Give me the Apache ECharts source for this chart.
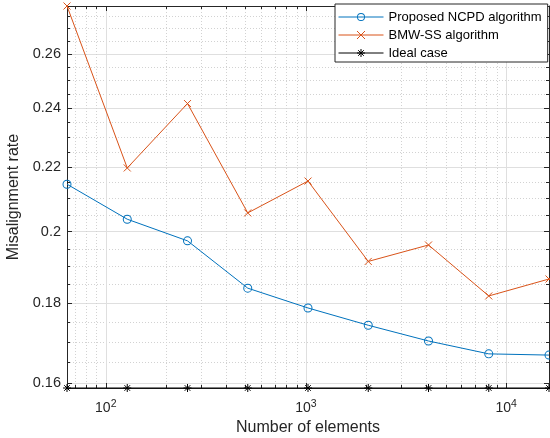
<!DOCTYPE html>
<html><head><meta charset="utf-8">
<script src="https://cdn.jsdelivr.net/npm/echarts@6.0.0/dist/echarts.min.js"></script>
<style>html,body{margin:0;padding:0;background:#fff}#c{width:550px;height:438px}</style>
</head><body><div id="c"></div>
<script>
// ---- data ----
const elements = [64, 128, 256, 512, 1024, 2048, 4096, 8192, 16384];
const ncpd = [0.2145, 0.2037, 0.1973, 0.1840, 0.1787, 0.1742, 0.1702, 0.1670, 0.1667];
const bmw = [0.2790, 0.2197, 0.2416, 0.2056, 0.2155, 0.1914, 0.1961, 0.1819, 0.1865];
const ideal = [0.1588, 0.1588, 0.1588, 0.1588, 0.1588, 0.1588, 0.1588, 0.1588, 0.1588];
const seriesNames = ['Proposed NCPD algorithm', 'BMW-SS algorithm', 'Ideal case'];
// ---- ticks ----
const xTickValues = [100, 1000, 10000];
const xTickExps = ['2', '3', '4'];
const xMinorTicks = [70, 80, 90, 200, 300, 400, 500, 600, 700, 800, 900, 2000, 3000, 4000, 5000, 6000, 7000, 8000, 9000];
const yTickValues = [0.16, 0.18, 0.2, 0.22, 0.24, 0.26];
const yTickLabels = ['0.16', '0.18', '0.2', '0.22', '0.24', '0.26'];
const yMinorTicks = [0.165, 0.17, 0.175, 0.185, 0.19, 0.195, 0.205, 0.21, 0.215, 0.225, 0.23, 0.235, 0.245, 0.25, 0.255, 0.265, 0.27, 0.275];
const xRange = [64, 16384];
const yRange = [0.1588, 0.279];

const FONT = "'Liberation Sans', Arial, Helvetica, sans-serif";
const AX = '#262626';
const MAJOR_GRID = '#dfdfdf';
const MINOR_GRID = '#d2d2d2';

function idxOf(arr, v) {
  let best = 0, bd = Infinity;
  arr.forEach((t, i) => { const d = Math.abs(Math.log(t) - Math.log(v)); if (d < bd) { bd = d; best = i; } });
  return best;
}

function xAxisDef(pos, major, opts) {
  return Object.assign({
    type: 'log', logBase: 10, min: xRange[0], max: xRange[1], gridIndex: 0,
    position: pos,
    axisLine: { show: false, onZero: false, lineStyle: { color: AX, width: 1 } },
    axisTick: { show: true, inside: true, length: major ? 5 : 3, customValues: major ? xTickValues : xMinorTicks, lineStyle: { color: AX, width: 1 } },
    axisLabel: { show: false },
    splitLine: { show: false },
    minorTick: { show: false }, minorSplitLine: { show: false }
  }, opts || {});
}
function yAxisDef(pos, major, opts) {
  return Object.assign({
    type: 'log', logBase: 10, min: yRange[0], max: yRange[1], gridIndex: 0,
    position: pos,
    axisLine: { show: false, onZero: false, lineStyle: { color: AX, width: 1 } },
    axisTick: { show: true, inside: true, length: major ? 5 : 3, customValues: major ? yTickValues : yMinorTicks, lineStyle: { color: AX, width: 1 } },
    axisLabel: { show: false },
    splitLine: { show: false },
    minorTick: { show: false }, minorSplitLine: { show: false }
  }, opts || {});
}

const ring = 'path://M0,5A5,5,0,1,1,10,5A5,5,0,1,1,0,5ZM1.1,5A3.9,3.9,0,1,0,8.9,5A3.9,3.9,0,1,0,1.1,5Z';
const cross = 'path://M0,0L10,10M10,0L0,10';
const star = 'path://M5,0L5,10M0,5L10,5M1.5,1.5L8.5,8.5M8.5,1.5L1.5,8.5';

const chart = echarts.init(document.getElementById('c'), null, { renderer: 'canvas' });
chart.setOption({
  animation: false,
  backgroundColor: '#fff',
  textStyle: { fontFamily: FONT },
  grid: { left: 67, right: 1, top: 6, bottom: 50, outerBoundsMode: 'none', containLabel: false },
  xAxis: [
    xAxisDef('bottom', true, {
      axisLine: { show: true, onZero: false, lineStyle: { color: AX, width: 1 } },
      axisLabel: {
        show: true, customValues: xTickValues, margin: 11,
        formatter: v => { const i = idxOf(xTickValues, v); return '{b|10}{s|' + xTickExps[i] + '}'; },
        rich: {
          b: { fontSize: 14, fontFamily: FONT, color: AX, lineHeight: 16, verticalAlign: 'bottom' },
          s: { fontSize: 10.5, fontFamily: FONT, color: AX, lineHeight: 10, verticalAlign: 'top' }
        }
      },
      splitLine: { show: true, lineStyle: { color: MAJOR_GRID, width: 1 } },
      name: 'Number of elements', nameLocation: 'middle', nameGap: 32,
      nameTextStyle: { fontSize: 16, fontFamily: FONT, color: AX }
    }),
    xAxisDef('bottom', false, { splitLine: { show: true, lineStyle: { color: MINOR_GRID, width: 1, type: [1, 2] } } }),
    xAxisDef('top', true, { axisLine: { show: true, onZero: false, lineStyle: { color: AX, width: 1 } } }),
    xAxisDef('top', false)
  ],
  yAxis: [
    yAxisDef('left', true, {
      axisLine: { show: true, onZero: false, lineStyle: { color: AX, width: 1 } },
      axisLabel: {
        show: true, customValues: yTickValues, margin: 6,
        fontSize: 14.5, fontFamily: FONT, color: AX,
        formatter: v => yTickLabels[idxOf(yTickValues, v)]
      },
      splitLine: { show: true, lineStyle: { color: MAJOR_GRID, width: 1 } },
      name: 'Misalignment rate', nameLocation: 'middle', nameGap: 36,
      nameTextStyle: { fontSize: 16, fontFamily: FONT, color: AX }
    }),
    yAxisDef('left', false, { splitLine: { show: true, lineStyle: { color: MINOR_GRID, width: 1, type: [1, 2] } } }),
    yAxisDef('right', true, { axisLine: { show: true, onZero: false, lineStyle: { color: AX, width: 1 } } }),
    yAxisDef('right', false)
  ],
  legend: {
    orient: 'vertical', left: 335, top: 4,
    padding: [6, 6, 2, 3],
    itemWidth: 45, itemHeight: 10, itemGap: 4,
    backgroundColor: '#fff', borderColor: AX, borderWidth: 1, borderRadius: 0,
    textStyle: { fontSize: 13, fontFamily: FONT, color: '#000', lineHeight: 14 },
    itemStyle: { borderWidth: 1 },
    lineStyle: { width: 1 },
    data: [
      { name: seriesNames[0], itemStyle: { borderWidth: 0 } },
      { name: seriesNames[1] },
      { name: seriesNames[2] }
    ]
  },
  series: [
    {
      name: seriesNames[0], type: 'line', xAxisIndex: 0, yAxisIndex: 0, clip: false,
      data: elements.map((x, i) => [x, ncpd[i]]),
      symbol: ring, symbolSize: 9, showAllSymbol: true,
      itemStyle: { color: '#0072BD', borderWidth: 0 },
      lineStyle: { color: '#0072BD', width: 1 }
    },
    {
      name: seriesNames[1], type: 'line', xAxisIndex: 0, yAxisIndex: 0, clip: false,
      data: elements.map((x, i) => [x, bmw[i]]),
      symbol: cross, symbolSize: 7, showAllSymbol: true,
      itemStyle: { color: '#D95319', borderColor: '#D95319', borderWidth: 1 },
      lineStyle: { color: '#D95319', width: 1 }
    },
    {
      name: seriesNames[2], type: 'line', xAxisIndex: 0, yAxisIndex: 0, clip: false,
      data: elements.map((x, i) => [x, ideal[i]]),
      symbol: star, symbolSize: 8, showAllSymbol: true,
      itemStyle: { color: '#000', borderColor: '#000', borderWidth: 1 },
      lineStyle: { color: '#000', width: 1 }
    }
  ]
});
</script></body></html>
